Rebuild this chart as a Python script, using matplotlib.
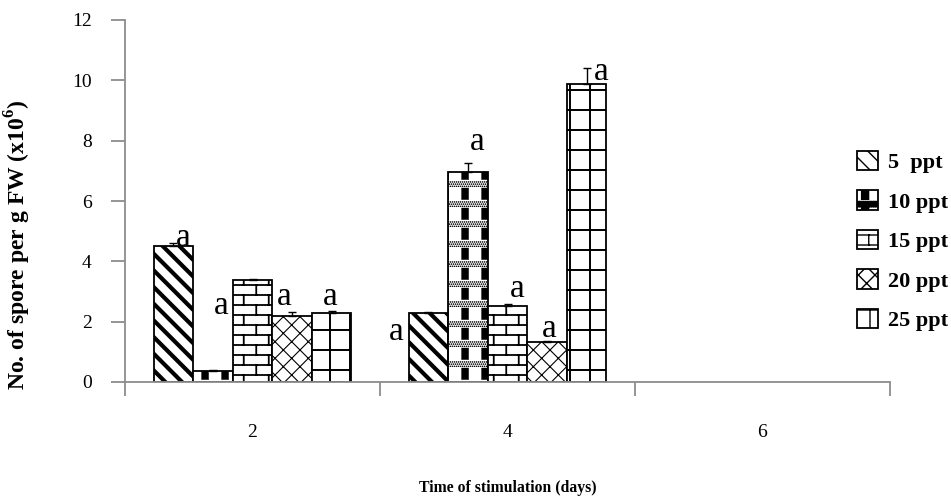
import warnings
import numpy as np
import matplotlib
matplotlib.use("Agg")
import matplotlib.pyplot as plt
from matplotlib import hatch as mhatch
from matplotlib.path import Path

warnings.filterwarnings("ignore", message=".*hatch must consist.*")

# ---------------------------------------------------------------- data
days = ["2", "4", "6"]
series_labels = ["5  ppt", "10 ppt", "15 ppt", "20 ppt", "25 ppt"]

spore_5ppt = [4.51, 2.28, np.nan]
spore_10ppt = [0.38, 6.95, np.nan]
spore_15ppt = [3.38, 2.52, np.nan]
spore_20ppt = [2.19, 1.34, np.nan]
spore_25ppt = [2.30, 9.88, np.nan]

err_5ppt = [0.10, 0.03, np.nan]
err_10ppt = [0.03, 0.32, np.nan]
err_15ppt = [0.05, 0.05, np.nan]
err_20ppt = [0.14, 0.03, np.nan]
err_25ppt = [0.05, 0.52, np.nan]

# significance letters per series and day (None = not shown)
letters_5ppt = ["a", "a", None]
letters_10ppt = ["a", "a", None]
letters_15ppt = [None, "a", None]
letters_20ppt = ["a", "a", None]
letters_25ppt = ["a", "a", None]

spores = [spore_5ppt, spore_10ppt, spore_15ppt, spore_20ppt, spore_25ppt]
errors = [err_5ppt, err_10ppt, err_15ppt, err_20ppt, err_25ppt]
letters = [letters_5ppt, letters_10ppt, letters_15ppt, letters_20ppt, letters_25ppt]

# letter placement: horizontal shift (in bar widths) and baseline height
letter_dx = [[0.24, -0.81, 0], [0.22, 0.23, 0], [0, 0.25, 0],
             [-0.20, 0.05, 0], [-0.03, 0.38, 0]]
letter_base = [[4.51, 1.39, 0], [2.25, 7.69, 0], [0, 2.82, 0],
               [2.55, 1.49, 0], [2.55, 10.0, 0]]


# ---------------------------------------------------------------- custom hatches
def _closed(x0, y0, x1, y1):
    v = [(x0, y0), (x1, y0), (x1, y1), (x0, y1), (x0, y0)]
    c = [Path.MOVETO, Path.LINETO, Path.LINETO, Path.LINETO, Path.CLOSEPOLY]
    return v, c


class BrickHatch(mhatch.HatchPatternBase):
    """'b': brick wall."""
    rows, bricks = 10, 4

    def __init__(self, hatch, density):
        on = "b" in hatch
        self.num_vertices = (self.rows * 2 + (self.rows + 1) * self.bricks * 2) if on else 0

    def set_vertices_and_codes(self, vertices, codes):
        h = 1.0 / self.rows
        w = 1.0 / self.bricks
        verts = []
        for r in range(self.rows):
            y = h / 2 + r * h
            verts += [(0.0, y), (1.0, y)]
        for r in range(-1, self.rows):
            y = h / 2 + r * h
            off = (w / 2) * (r % 2) + w / 4
            for b in range(self.bricks):
                x = off + b * w
                verts += [(x, y), (x, y + h)]
        vertices[:] = verts
        codes[0::2] = Path.MOVETO
        codes[1::2] = Path.LINETO


class GridHatch(mhatch.HatchPatternBase):
    """'g': coarse square grid."""
    n = 5

    def __init__(self, hatch, density):
        on = "g" in hatch
        self.num_vertices = self.n * 4 if on else 0

    def set_vertices_and_codes(self, vertices, codes):
        verts = []
        for k in range(self.n):
            p = (k + 0.5) / self.n
            verts += [(0.0, p), (1.0, p), (p, 0.0), (p, 1.0)]
        vertices[:] = verts
        codes[0::2] = Path.MOVETO
        codes[1::2] = Path.LINETO


class CheckHatch(mhatch.HatchPatternBase):
    """'k': black blocks separated by dotted bands."""
    n = 5
    dots_per_row = 10
    dot_rows = 3

    def __init__(self, hatch, density):
        on = "k" in hatch
        per_tile = 1 + self.dots_per_row * self.dot_rows
        self.num_vertices = self.n * self.n * per_tile * 5 if on else 0

    def set_vertices_and_codes(self, vertices, codes):
        t = 1.0 / self.n
        verts, cods = [], []
        for i in range(self.n):
            for j in range(self.n):
                x0, y0 = i * t, j * t
                v, c = _closed(x0 + 0.08 * t, y0 + 0.02 * t,
                               x0 + 0.43 * t, y0 + 0.60 * t)
                verts += v
                cods += c
                for r in range(self.dot_rows):
                    yy = y0 + (0.66 + 0.11 * r) * t
                    for d in range(self.dots_per_row):
                        xx = x0 + (d + 0.5 * (r % 2)) * t / self.dots_per_row
                        s = 0.009
                        v, c = _closed(xx, yy, xx + s, yy + s)
                        verts += v
                        cods += c
        vertices[:] = verts
        codes[:] = cods


mhatch._hatch_types.extend([BrickHatch, GridHatch, CheckHatch])

hatches = ["\\\\", "k", "b", "xx", "g"]
hatch_widths = [3.0, 0.3, 1.3, 0.8, 1.4]

# ---------------------------------------------------------------- figure
plt.rcParams["font.family"] = ["Liberation Serif", "DejaVu Serif"]
plt.rcParams["mathtext.fontset"] = "custom"
plt.rcParams["mathtext.rm"] = "Liberation Serif:bold"
plt.rcParams["mathtext.bf"] = "Liberation Serif:bold"
plt.rcParams["hatch.color"] = "black"

fig = plt.figure(figsize=(9.51, 4.97), dpi=100)
ax = fig.add_axes([125 / 951, 115 / 497, 765 / 951, 362 / 497])

x = np.arange(len(days))
bar_w = 0.155
handles = []
for i, (vals, errs, lab) in enumerate(zip(spores, errors, series_labels)):
    pos = x + (i - 2) * bar_w
    with plt.rc_context({"hatch.linewidth": hatch_widths[i]}):
        bars = ax.bar(pos, vals, width=bar_w, color="white", edgecolor="black",
                      linewidth=1.3, hatch=hatches[i], label=lab, zorder=2)
    for b in bars:
        if hasattr(b, "set_hatch_linewidth"):
            b.set_hatch_linewidth(hatch_widths[i])
    handles.append(bars)
    ax.errorbar(pos, vals, yerr=[np.zeros(len(errs)), errs], fmt="none",
                ecolor="black", elinewidth=1.0, capsize=3, capthick=1.0, zorder=3)
    for k, let in enumerate(letters[i]):
        if let is None:
            continue
        ax.text(pos[k] + letter_dx[i][k] * bar_w, letter_base[i][k], let,
                ha="center", va="baseline", fontsize=24, zorder=4)

# axes styling
ax.set_xlim(-0.5, len(days) - 0.5)
ax.set_ylim(0, 12)
ax.set_yticks(np.arange(0, 13, 2))
ax.set_xticks(np.arange(len(days) + 1) - 0.5)
ax.set_xticklabels([])
ax.set_xticks(x, minor=True)
ax.set_xticklabels(days, minor=True)
ax.tick_params(axis="x", which="minor", length=0, pad=30, labelsize=14)
ax.tick_params(axis="x", which="major", length=10, width=1.3, color="#8c8c8c")
ax.tick_params(axis="y", length=10, width=1.3, color="#8c8c8c", labelsize=14, pad=14)
for side in ("top", "right"):
    ax.spines[side].set_visible(False)
for side in ("left", "bottom"):
    ax.spines[side].set_color("#8c8c8c")
    ax.spines[side].set_linewidth(1.3)

ax.set_xlabel("Time of stimulation (days)", fontsize=11.3, fontweight="bold")
ax.xaxis.set_label_coords(0.5, -0.27)
ax.set_ylabel(r"No. of spore per g FW (x10$^{6}$)", fontsize=17, fontweight="bold")
ax.yaxis.set_label_coords(-0.12, 0.38)

fig.legend(handles=handles, labels=series_labels, loc="center left",
           bbox_to_anchor=(857 / 951, (497 - 241) / 497), frameon=False,
           prop={"weight": "bold", "size": 16}, handlelength=0.95,
           handleheight=0.95, handletextpad=0.45, labelspacing=0.78,
           borderaxespad=0, borderpad=0)

fig.savefig("out.png", dpi=100)
